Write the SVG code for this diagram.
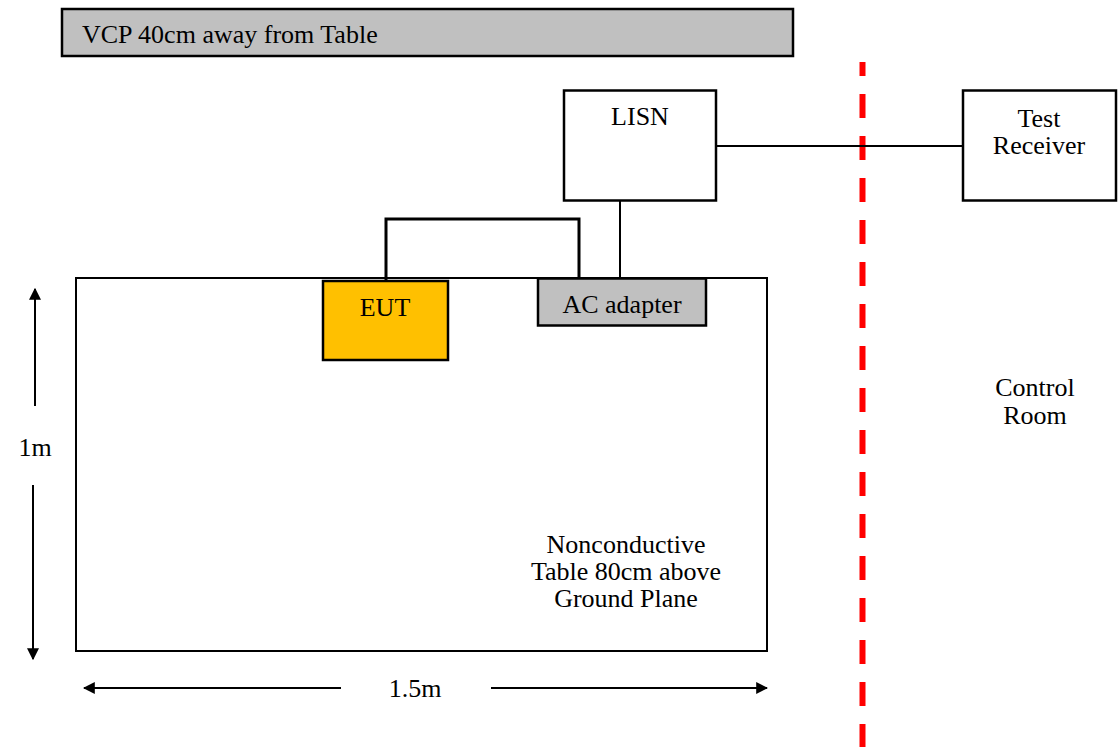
<svg xmlns="http://www.w3.org/2000/svg" width="1118" height="747" viewBox="0 0 1118 747">
<defs>
<style>
.t{font-family:"Liberation Serif","DejaVu Serif",serif;font-size:26px;fill:#000}
.c{text-anchor:middle}
.box{stroke:#000;stroke-width:2.5}
.ln{stroke:#000;stroke-width:2;fill:none}
</style>
<marker id="ah" viewBox="0 0 10 10" refX="9" refY="5" markerWidth="6" markerHeight="6" markerUnits="strokeWidth" orient="auto">
<path d="M0,0 L10,5 L0,10 Z" fill="#000"/>
</marker>
</defs>
<rect width="1118" height="747" fill="#fff"/>
<g id="vcp">
<rect class="box" x="62" y="9" width="731" height="47" fill="#C0C0C0"/>
<text class="t" font-family="Liberation Serif, serif" x="82" y="43">VCP 40cm away from Table</text>
</g>
<g id="table">
<rect class="ln" x="76" y="278" width="691" height="373"/>
<text class="t c" font-family="Liberation Serif, serif" x="626" y="553">Nonconductive</text>
<text class="t c" font-family="Liberation Serif, serif" x="626" y="580">Table 80cm above</text>
<text class="t c" font-family="Liberation Serif, serif" x="626" y="607">Ground Plane</text>
</g>
<g id="divider">
<line x1="862.5" y1="62" x2="862.5" y2="747" stroke="#FF0000" stroke-width="6" stroke-dasharray="24 18" stroke-dashoffset="10"/>
</g>
<g id="connectors">
<polyline points="386,281 386,219 579,219 579,278" fill="none" stroke="#000" stroke-width="3"/>
<line class="ln" x1="620" y1="201" x2="620" y2="278"/>
<line class="ln" x1="716" y1="146" x2="963" y2="146"/>
</g>
<g id="lisn">
<rect class="box" x="564" y="90.5" width="152" height="110" fill="#fff"/>
<text class="t c" font-family="Liberation Serif, serif" x="640" y="125">LISN</text>
</g>
<g id="receiver">
<rect class="box" x="963" y="90.5" width="153" height="110" fill="#fff"/>
<text class="t c" font-family="Liberation Serif, serif" x="1039" y="127">Test</text>
<text class="t c" font-family="Liberation Serif, serif" x="1039" y="154">Receiver</text>
</g>
<g id="eut">
<rect class="box" x="323" y="281" width="125" height="79" fill="#FFC000"/>
<text class="t c" font-family="Liberation Serif, serif" x="385" y="316">EUT</text>
</g>
<g id="adapter">
<rect class="box" x="538" y="278.5" width="168" height="47" fill="#C0C0C0"/>
<text class="t c" font-family="Liberation Serif, serif" x="622" y="313">AC adapter</text>
</g>
<g id="control-room">
<text class="t c" font-family="Liberation Serif, serif" x="1035" y="396">Control</text>
<text class="t c" font-family="Liberation Serif, serif" x="1035" y="424">Room</text>
</g>
<g id="dim-1m">
<line class="ln" x1="35" y1="406" x2="35" y2="289" marker-end="url(#ah)"/>
<text class="t c" font-family="Liberation Serif, serif" x="35" y="456">1m</text>
<line class="ln" x1="33" y1="485" x2="33" y2="659" marker-end="url(#ah)"/>
</g>
<g id="dim-15m">
<line class="ln" x1="341" y1="688" x2="84" y2="688" marker-end="url(#ah)"/>
<text class="t c" font-family="Liberation Serif, serif" x="415" y="697">1.5m</text>
<line class="ln" x1="491" y1="688" x2="767" y2="688" marker-end="url(#ah)"/>
</g>
</svg>
